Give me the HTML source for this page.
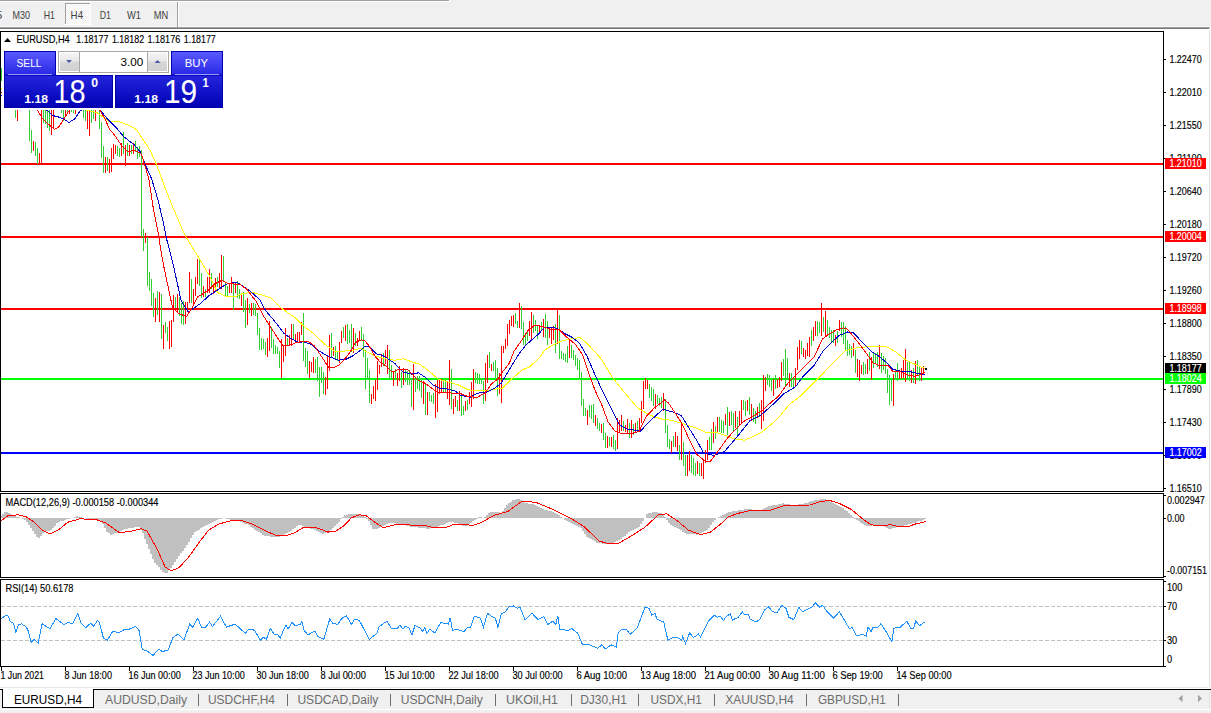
<!DOCTYPE html><html><head><meta charset="utf-8"><style>html,body{margin:0;padding:0;width:1211px;height:713px;overflow:hidden;background:#fff}svg{position:absolute;left:0;top:0;font-family:"Liberation Sans",sans-serif}</style></head><body>
<svg width="1211" height="713" viewBox="0 0 1211 713">
<rect x="0" y="0" width="1211" height="29" fill="#f0f0f0" />
<rect x="0" y="0" width="449" height="1" fill="#a0a0a0" />
<rect x="0" y="1" width="450" height="1" fill="#ffffff" />
<rect x="449" y="0" width="1" height="2" fill="#ffffff" />
<rect x="0" y="26" width="1211" height="1" fill="#f8f8f8" />
<rect x="0" y="27" width="1210" height="1" fill="#a0a0a0" />
<rect x="0" y="28" width="1209" height="1" fill="#787878" />
<rect x="1210" y="27" width="1" height="661" fill="#ffffff" />
<defs><pattern id="chk" width="2" height="2" patternUnits="userSpaceOnUse"><rect width="2" height="2" fill="#f0f0f0"/><rect width="1" height="1" fill="#ffffff"/><rect x="1" y="1" width="1" height="1" fill="#ffffff"/></pattern></defs>
<rect x="65" y="3" width="26" height="22" fill="url(#chk)" />
<rect x="65" y="3" width="26" height="1" fill="#a0a0a0" />
<rect x="65" y="3" width="1" height="22" fill="#a0a0a0" />
<rect x="65" y="24" width="26" height="1" fill="#ffffff" />
<rect x="90" y="3" width="1" height="22" fill="#ffffff" />
<rect x="177" y="2" width="1" height="25" fill="#a0a0a0" />
<rect x="178" y="2" width="1" height="25" fill="#ffffff" />
<text x="-4" y="19" font-size="10.4" fill="#404040" font-weight="normal" text-anchor="start" textLength="6.2" lengthAdjust="spacingAndGlyphs" >5</text>
<text x="12.6" y="19" font-size="10.4" fill="#404040" font-weight="normal" text-anchor="start" textLength="17.5" lengthAdjust="spacingAndGlyphs" >M30</text>
<text x="43.8" y="19" font-size="10.4" fill="#404040" font-weight="normal" text-anchor="start" textLength="11.2" lengthAdjust="spacingAndGlyphs" >H1</text>
<text x="70.6" y="19" font-size="10.4" fill="#404040" font-weight="normal" text-anchor="start" textLength="12.5" lengthAdjust="spacingAndGlyphs" >H4</text>
<text x="99.8" y="19" font-size="10.4" fill="#404040" font-weight="normal" text-anchor="start" textLength="11.2" lengthAdjust="spacingAndGlyphs" >D1</text>
<text x="126.9" y="19" font-size="10.4" fill="#404040" font-weight="normal" text-anchor="start" textLength="14" lengthAdjust="spacingAndGlyphs" >W1</text>
<text x="153.8" y="19" font-size="10.4" fill="#404040" font-weight="normal" text-anchor="start" textLength="14.5" lengthAdjust="spacingAndGlyphs" >MN</text>
<rect x="0" y="29" width="1209" height="658" fill="#ffffff" />
<rect x="1209" y="29" width="1" height="658" fill="#e3e3e3" />
<rect x="0" y="687" width="1209" height="1" fill="#e8e8e8" />
<defs><clipPath id="cm"><rect x="1" y="32" width="1162" height="459"/></clipPath><clipPath id="cmacd"><rect x="1" y="494" width="1162" height="83"/></clipPath><clipPath id="crsi"><rect x="1" y="580" width="1162" height="86"/></clipPath></defs>
<g clip-path="url(#cm)" shape-rendering="crispEdges">
<rect x="0" y="163" width="1163" height="2" fill="#ff0000" />
<rect x="0" y="236" width="1163" height="2" fill="#ff0000" />
<rect x="0" y="308" width="1163" height="2" fill="#ff0000" />
<rect x="0" y="378" width="1163" height="2" fill="#00ff00" />
<rect x="0" y="452" width="1163" height="2" fill="#0000ff" />
<path d="M1.5 68V81M3.5 62V79M7.5 58V73M13.5 80V99M15.5 92V118M19.5 90V105M21.5 84V101M25.5 88V103M29.5 100V141M31.5 130V153M35.5 142V156M37.5 148V164M43.5 98V123M45.5 100V124M47.5 95V128M49.5 98V131M55.5 92V107M57.5 88V105M61.5 95V113M63.5 96V121M67.5 94V113M71.5 92V112M73.5 90V113M77.5 90V106M81.5 90V107M83.5 95V118M85.5 96V121M91.5 100V123M93.5 98V119M97.5 96V107M99.5 98V129M101.5 122V158M103.5 146V173M107.5 157V171M117.5 146V156M119.5 148V157M123.5 132V154M127.5 143V156M131.5 145V154M135.5 141V152M137.5 147V159M139.5 146V157M141.5 150V237M143.5 229V251M147.5 237V286M149.5 272V291M151.5 279V306M153.5 293V317M157.5 291V315M161.5 294V339M165.5 322V333M167.5 327V341M175.5 297V308M179.5 297V316M181.5 303V324M183.5 301V325M191.5 279V303M199.5 260V286M201.5 273V298M205.5 289V297M211.5 273V289M217.5 277V287M223.5 256V281M225.5 283V297M227.5 286V296M233.5 282V310M237.5 281V298M239.5 289V299M243.5 292V312M245.5 300V328M249.5 304V313M253.5 303V315M255.5 304V316M257.5 313V335M259.5 328V350M261.5 338V350M263.5 339V349M265.5 342V355M271.5 327V348M273.5 339V354M275.5 345V354M277.5 347V354M279.5 351V368M287.5 338V346M293.5 324V339M303.5 313V361M305.5 348V367M307.5 351V374M315.5 359V373M317.5 357V381M319.5 367V397M321.5 367V383M323.5 372V394M331.5 333V358M335.5 346V359M337.5 351V361M343.5 327V338M347.5 324V344M349.5 330V343M351.5 324V352M355.5 333V346M361.5 327V341M363.5 334V357M365.5 350V389M367.5 358V379M369.5 370V403M383.5 353V366M389.5 350V379M391.5 365V380M395.5 369V379M401.5 372V388M405.5 369V382M407.5 371V385M409.5 370V385M411.5 378V407M415.5 377V392M417.5 376V389M419.5 376V391M421.5 378V398M425.5 383V415M429.5 392V401M431.5 395V402M433.5 393V404M443.5 381V393M445.5 380V393M451.5 369V409M457.5 400V411M461.5 395V416M463.5 406V415M467.5 400V410M475.5 372V383M477.5 373V384M479.5 374V384M481.5 378V384M483.5 381V404M489.5 352V368M493.5 362V371M495.5 360V379M497.5 368V396M515.5 313V324M517.5 321V328M521.5 306V329M523.5 322V345M525.5 333V345M527.5 331V341M533.5 315V333M535.5 320V331M537.5 325V339M541.5 322V331M545.5 314V338M547.5 321V345M555.5 324V353M559.5 315V359M561.5 351V359M563.5 353V360M565.5 354V362M567.5 346V363M571.5 345V358M573.5 350V360M575.5 355V366M577.5 358V370M579.5 360V379M581.5 372V406M583.5 399V416M585.5 408V416M589.5 405V417M591.5 405V419M593.5 404V423M597.5 418V429M599.5 423V431M603.5 423V440M605.5 433V448M609.5 437V446M613.5 435V449M615.5 440V451M623.5 421V431M629.5 423V438M633.5 424V435M637.5 421V431M649.5 384V398M651.5 387V401M653.5 389V406M657.5 395V404M659.5 398V406M661.5 397V408M665.5 399V433M667.5 425V447M669.5 439V449M673.5 436V447M679.5 445V460M683.5 442V466M685.5 455V476M691.5 455V473M693.5 458V475M695.5 463V476M699.5 463V476M709.5 437V450M711.5 429V450M715.5 426V439M719.5 417V432M721.5 420V433M723.5 421V433M727.5 407V435M731.5 411V425M733.5 413V431M737.5 417V435M743.5 400V410M745.5 401V416M749.5 397V415M753.5 408V422M755.5 411V424M759.5 403V417M767.5 374V385M769.5 375V387M771.5 379V391M775.5 375V389M783.5 359V376M785.5 349V387M787.5 358V380M791.5 373V387M793.5 377V387M801.5 341V354M811.5 330V346M817.5 321V336M819.5 322V333M823.5 317V332M827.5 320V334M829.5 327V338M831.5 330V342M833.5 330V343M837.5 331V343M841.5 322V337M843.5 322V344M845.5 326V351M847.5 340V356M849.5 344V355M851.5 346V358M855.5 350V373M863.5 362V375M865.5 364V374M869.5 352V371M873.5 352V368M875.5 353V363M877.5 352V367M881.5 353V373M883.5 356V370M885.5 358V374M887.5 369V393M889.5 375V405M891.5 380V401M895.5 370V379M897.5 363V381M907.5 362V379M909.5 362V381M913.5 368V383M917.5 360V376M919.5 367V381" stroke="#32cd32" stroke-width="1" fill="none"/>
<path d="M5.5 60V75M9.5 64V85M11.5 72V93M17.5 95V121M23.5 86V105M27.5 90V107M33.5 141V151M39.5 153V164M41.5 100V164M51.5 100V135M53.5 100V128M59.5 90V107M65.5 95V116M69.5 93V114M75.5 92V114M79.5 88V105M87.5 95V129M89.5 100V136M95.5 100V121M105.5 157V173M109.5 159V173M111.5 148V172M113.5 144V159M115.5 145V154M121.5 143V156M125.5 145V166M129.5 145V156M133.5 143V154M145.5 233V243M155.5 298V322M159.5 292V322M163.5 325V349M169.5 321V349M171.5 320V347M173.5 295V322M177.5 294V313M185.5 302V324M187.5 302V311M189.5 272V303M193.5 289V306M195.5 277V296M197.5 259V284M203.5 286V297M207.5 277V293M209.5 269V293M213.5 284V294M215.5 278V292M219.5 273V289M221.5 255V289M229.5 283V293M231.5 277V293M235.5 283V293M241.5 294V306M247.5 298V325M251.5 303V316M267.5 338V357M269.5 321V351M281.5 339V378M283.5 345V362M285.5 328V356M289.5 335V346M291.5 324V346M295.5 334V342M297.5 332V342M299.5 332V342M301.5 322V335M309.5 361V378M311.5 362V372M313.5 357V373M325.5 377V395M327.5 356V389M329.5 335V371M333.5 347V356M339.5 342V363M341.5 331V343M345.5 325V341M353.5 328V353M357.5 338V346M359.5 331V340M371.5 394V404M373.5 386V399M375.5 380V401M377.5 361V390M379.5 365V374M381.5 354V367M385.5 350V364M387.5 345V374M393.5 372V386M397.5 373V386M399.5 366V381M403.5 368V385M413.5 364V410M423.5 381V404M427.5 392V415M435.5 384V418M437.5 380V412M439.5 379V394M441.5 379V393M447.5 381V399M449.5 360V405M453.5 399V414M455.5 396V407M459.5 391V411M465.5 401V411M469.5 392V404M471.5 382V407M473.5 369V399M485.5 363V401M487.5 355V383M491.5 364V371M499.5 373V394M501.5 346V403M503.5 346V353M505.5 339V349M507.5 324V346M509.5 320V334M511.5 316V326M513.5 315V327M519.5 303V328M529.5 321V336M531.5 312V339M539.5 326V334M543.5 319V337M549.5 327V338M551.5 328V344M553.5 326V340M557.5 309V344M569.5 340V358M587.5 410V425M595.5 415V426M601.5 424V433M607.5 436V448M611.5 437V447M617.5 418V449M619.5 420V433M621.5 415V431M625.5 425V432M627.5 419V433M631.5 420V438M635.5 423V432M639.5 418V431M641.5 401V423M643.5 381V409M645.5 378V389M647.5 380V389M655.5 394V409M663.5 393V411M671.5 441V453M675.5 432V447M677.5 436V451M681.5 423V460M687.5 455V476M689.5 451V471M697.5 461V474M701.5 463V476M703.5 460V479M705.5 450V463M707.5 440V460M713.5 422V443M717.5 417V432M725.5 414V425M729.5 412V426M735.5 411V428M739.5 411V425M741.5 400V423M747.5 400V411M751.5 404V421M757.5 407V418M761.5 400V429M763.5 375V421M765.5 377V391M773.5 379V396M777.5 379V388M779.5 377V387M781.5 362V381M789.5 373V387M795.5 368V387M797.5 347V370M799.5 340V359M803.5 348V357M805.5 350V359M807.5 343V356M809.5 337V357M813.5 327V341M815.5 321V336M821.5 303V336M825.5 311V336M835.5 335V346M839.5 320V331M853.5 343V356M857.5 359V377M859.5 360V381M861.5 365V374M867.5 359V374M871.5 357V380M879.5 345V369M893.5 374V406M899.5 370V379M901.5 368V379M903.5 360V378M905.5 349V382M911.5 370V383M915.5 361V384M921.5 368V381M923.5 366V375" stroke="#ff0000" stroke-width="1" fill="none"/>
</g>
<g clip-path="url(#cm)" fill="none" stroke-width="1" shape-rendering="crispEdges">
<polyline points="1.5,88.0 40.5,98.5 88.1,110.5 97.1,112.8 108.4,121.2 119.5,121.8 128.5,125.2 136.5,129.5 150.2,150.5 156.5,164.5 164.2,185.5 172.5,206.5 184.5,234.5 193.0,248.5 199.3,258.5 209.2,275.5 217.5,292.5 226.0,296.5 237.2,296.0 242.5,293.5 252.5,292.5 263.9,295.5 270.9,298.1 280.5,307.5 296.5,318.8 303.5,325.8 313.4,333.5 324.5,344.0 334.4,351.1 344.3,351.1 352.5,350.4 361.1,348.3 366.5,351.8 375.1,356.0 385.0,358.8 394.8,360.2 403.2,358.8 413.1,362.3 420.1,364.4 428.5,370.7 438.4,379.2 448.2,382.0 458.0,384.8 466.5,389.0 470.5,390.2 488.5,390.2 502.5,388.1 511.1,379.5 522.3,369.9 529.3,367.1 539.2,358.0 544.5,350.3 551.8,345.4 563.0,340.5 579.9,337.5 586.9,343.3 600.9,358.5 612.2,377.0 622.0,389.5 630.5,399.5 637.5,407.8 649.0,414.8 661.5,419.0 672.5,420.5 685.5,424.5 696.5,428.2 706.5,432.5 716.5,432.5 724.8,435.2 736.0,439.5 744.5,440.1 751.5,437.3 761.3,432.5 772.5,423.3 781.0,414.8 789.5,404.3 801.2,395.5 816.7,379.8 844.8,351.0 854.5,348.2 872.9,346.1 886.9,346.8 895.3,351.7 905.2,359.5 915.0,364.3 924.8,368.5" stroke="#ffff00"/>
<polyline points="1.5,95.0 25.5,104.5 47.7,110.5 52.2,115.5 57.8,116.7 63.5,119.0 69.0,122.4 74.7,119.0 80.3,110.5 90.5,106.5 100.5,110.5 108.4,120.1 117.4,129.1 124.1,137.0 134.2,144.8 140.3,151.9 145.9,165.9 151.5,178.5 157.9,199.5 163.5,223.5 167.0,240.5 172.5,261.5 181.1,300.5 188.1,312.1 200.5,303.5 209.2,295.5 219.0,289.0 227.5,283.5 237.2,282.5 249.9,291.0 259.7,299.5 265.5,310.5 274.1,320.5 284.0,333.5 291.0,338.5 298.0,342.3 303.5,341.9 310.5,344.0 319.0,351.1 328.8,356.5 338.5,360.2 345.5,359.5 352.5,356.0 359.5,351.1 365.3,346.1 369.5,346.8 376.5,353.9 382.2,355.3 389.2,359.5 394.8,363.5 403.2,372.1 411.5,374.2 418.5,372.8 425.5,377.5 432.7,384.8 439.5,388.3 446.8,389.0 455.2,391.1 460.5,395.2 470.5,397.3 477.5,393.1 485.5,392.5 494.2,388.5 501.2,383.2 504.0,378.5 512.5,364.3 519.5,353.1 526.5,344.5 539.2,333.5 544.5,327.1 551.8,327.1 558.5,329.2 564.5,333.5 572.5,337.5 579.5,343.3 586.9,355.9 595.3,375.5 603.8,393.8 612.2,410.5 619.2,424.5 626.2,428.9 640.5,431.0 650.5,420.5 663.0,409.2 672.8,412.0 681.3,415.5 689.5,428.9 696.5,440.1 703.5,452.7 713.5,455.5 724.8,451.3 738.9,434.5 750.1,420.5 761.3,414.8 774.0,403.5 783.8,393.8 795.5,386.8 802.5,377.0 813.9,365.7 823.5,350.3 833.5,340.5 839.2,335.5 847.5,332.0 853.2,332.7 865.5,345.5 871.5,351.7 878.5,355.9 886.9,362.9 892.5,369.2 900.9,371.3 908.0,371.3 915.0,372.7 924.8,374.9" stroke="#0000cd"/>
<polyline points="1.5,92.5 20.5,100.5 37.5,110.5 42.1,117.9 48.8,124.5 54.5,129.5 58.9,126.8 64.5,117.9 67.9,112.2 72.5,106.5 85.5,104.5 95.5,106.5 100.5,111.1 105.0,119.0 109.5,129.1 115.1,135.8 121.8,145.9 127.5,151.5 135.3,150.5 140.9,153.5 142.5,157.5 144.5,164.5 148.8,178.5 153.0,206.5 158.5,234.5 160.5,248.5 164.2,268.5 172.5,307.5 178.3,313.5 186.5,316.5 192.3,307.5 197.9,296.5 203.5,293.5 209.2,289.5 214.5,284.0 221.5,280.5 228.5,283.5 240.0,284.5 247.1,289.5 256.9,302.5 263.9,316.5 270.9,327.5 278.0,338.5 282.5,345.1 288.2,345.8 295.2,343.0 303.5,341.2 309.1,341.9 314.5,346.1 321.5,356.5 328.5,367.2 333.0,367.9 338.5,365.5 344.3,359.5 349.9,352.5 355.5,342.5 361.1,339.8 365.3,341.2 369.5,346.5 375.1,356.5 380.5,362.3 386.5,366.5 392.0,372.1 399.0,369.3 407.5,369.3 413.1,374.9 418.5,380.5 425.5,383.4 432.7,389.0 438.4,392.5 445.4,392.5 452.4,393.2 459.4,393.2 466.5,396.0 468.9,396.5 477.5,397.3 485.5,392.5 491.5,383.9 498.5,378.3 502.5,372.0 509.5,362.9 513.9,351.5 520.9,341.5 527.9,330.5 534.9,325.0 542.0,326.5 550.5,329.2 558.5,329.2 567.2,337.5 575.5,344.5 582.5,354.5 589.5,375.5 595.3,390.9 602.4,406.4 608.0,421.8 615.0,431.0 622.0,433.8 630.5,433.8 639.1,431.5 646.2,416.2 654.5,407.8 664.5,400.1 668.5,402.9 675.5,413.5 682.5,424.5 689.5,440.1 696.5,454.2 705.2,461.2 710.5,461.2 717.5,452.0 727.5,438.0 736.0,428.9 743.1,421.8 752.9,416.2 762.5,410.5 771.2,402.2 778.2,396.5 788.5,382.5 797.0,374.2 805.5,365.5 813.9,357.3 822.5,339.0 827.9,334.8 836.3,329.9 843.5,327.8 847.5,329.2 858.8,343.3 867.2,354.5 872.9,362.9 879.9,365.7 888.3,365.7 892.5,371.3 900.9,372.0 909.4,375.5 915.0,376.3 922.0,374.2 924.8,372.0" stroke="#ff0000"/>
</g>
<rect x="925" y="368" width="2" height="2" fill="#000" />
<defs>
<linearGradient id="gbtn" x1="0" y1="0" x2="0" y2="1"><stop offset="0" stop-color="#5a5aff"/><stop offset="1" stop-color="#2a2ae6"/></linearGradient>
<linearGradient id="gbig" x1="0" y1="0" x2="0" y2="1"><stop offset="0" stop-color="#2424dc"/><stop offset="1" stop-color="#0000b4"/></linearGradient>
<linearGradient id="gsp" x1="0" y1="0" x2="0" y2="1"><stop offset="0" stop-color="#f4f4f4"/><stop offset="0.45" stop-color="#e8e8e8"/><stop offset="0.5" stop-color="#d8d8d8"/><stop offset="1" stop-color="#d0d0d0"/></linearGradient>
</defs>
<rect x="2" y="49" width="223" height="61" fill="#ffffff" />
<rect x="4" y="51" width="52" height="24" fill="#0000b0" />
<rect x="5" y="52" width="50" height="22" fill="url(#gbtn)" />
<rect x="8" y="74" width="44" height="1" fill="#9c9cff" />
<rect x="4" y="75" width="109" height="33" fill="#0000a8" />
<rect x="5" y="76" width="107" height="31" fill="url(#gbig)" />
<rect x="5" y="74" width="50" height="2" fill="url(#gbig)" />
<rect x="8" y="74" width="44" height="1" fill="#9c9cff" />
<rect x="171" y="51" width="52" height="24" fill="#0000b0" />
<rect x="172" y="52" width="50" height="22" fill="url(#gbtn)" />
<rect x="115" y="75" width="108" height="33" fill="#0000a8" />
<rect x="116" y="76" width="106" height="31" fill="url(#gbig)" />
<rect x="172" y="74" width="50" height="2" fill="url(#gbig)" />
<rect x="175" y="74" width="44" height="1" fill="#9c9cff" />
<rect x="56" y="51" width="115" height="24" fill="#ffffff" />
<rect x="58" y="51" width="111" height="1" fill="#a8a8a8" />
<rect x="58" y="72" width="111" height="1" fill="#a8a8a8" />
<rect x="58" y="51" width="1" height="22" fill="#a8a8a8" />
<rect x="168" y="51" width="1" height="22" fill="#a8a8a8" />
<rect x="60" y="53" width="19" height="18" fill="url(#gsp)" />
<rect x="79" y="52" width="1" height="20" fill="#a8a8a8" />
<rect x="148" y="53" width="19" height="18" fill="url(#gsp)" />
<rect x="147" y="52" width="1" height="20" fill="#a8a8a8" />
<path d="M66 60h6l-3 3z" fill="#4a5aa8"/>
<path d="M154.5 63h6l-3-3z" fill="#4a5aa8"/>
<text x="120.4" y="66" font-size="11.5" fill="#000" font-weight="normal" text-anchor="start" textLength="22.8" lengthAdjust="spacingAndGlyphs" >3.00</text>
<text x="16.4" y="66.8" font-size="11.5" fill="#ffffff" font-weight="normal" text-anchor="start" textLength="25.2" lengthAdjust="spacingAndGlyphs" >SELL</text>
<text x="184.8" y="66.8" font-size="11.5" fill="#ffffff" font-weight="normal" text-anchor="start" textLength="23.3" lengthAdjust="spacingAndGlyphs" >BUY</text>
<text x="24.3" y="102.8" font-size="11.5" fill="#ffffff" font-weight="bold" text-anchor="start" textLength="23.7" lengthAdjust="spacingAndGlyphs" >1.18</text>
<text x="53.5" y="103" font-size="33.5" fill="#ffffff" font-weight="normal" text-anchor="start" textLength="32.2" lengthAdjust="spacingAndGlyphs" >18</text>
<text x="91.2" y="87" font-size="12.5" fill="#ffffff" font-weight="bold" text-anchor="start" textLength="6.8" lengthAdjust="spacingAndGlyphs" >0</text>
<text x="134.3" y="102.8" font-size="11.5" fill="#ffffff" font-weight="bold" text-anchor="start" textLength="23.7" lengthAdjust="spacingAndGlyphs" >1.18</text>
<text x="164" y="103" font-size="33.5" fill="#ffffff" font-weight="normal" text-anchor="start" textLength="33.2" lengthAdjust="spacingAndGlyphs" >19</text>
<text x="202.5" y="87" font-size="12.5" fill="#ffffff" font-weight="bold" text-anchor="start" textLength="6.2" lengthAdjust="spacingAndGlyphs" >1</text>
<path d="M4 42h7l-3.5-4z" fill="#000"/>
<text x="16.4" y="43" font-size="10.4" fill="#000" font-weight="normal" text-anchor="start" textLength="53.3" lengthAdjust="spacingAndGlyphs" stroke="#000" stroke-width="0.15" >EURUSD,H4</text>
<text x="76.2" y="43" font-size="10.4" fill="#000" font-weight="normal" text-anchor="start" textLength="32.3" lengthAdjust="spacingAndGlyphs" stroke="#000" stroke-width="0.15" >1.18177</text>
<text x="111.9" y="43" font-size="10.4" fill="#000" font-weight="normal" text-anchor="start" textLength="32.3" lengthAdjust="spacingAndGlyphs" stroke="#000" stroke-width="0.15" >1.18182</text>
<text x="147.5" y="43" font-size="10.4" fill="#000" font-weight="normal" text-anchor="start" textLength="32.7" lengthAdjust="spacingAndGlyphs" stroke="#000" stroke-width="0.15" >1.18176</text>
<text x="183.8" y="43" font-size="10.4" fill="#000" font-weight="normal" text-anchor="start" textLength="32.0" lengthAdjust="spacingAndGlyphs" stroke="#000" stroke-width="0.15" >1.18177</text>
<g clip-path="url(#cmacd)">
<path d="M0 516h2V518h-2zM2 514h2V518h-2zM4 512h2V518h-2zM6 512h2V518h-2zM8 513h2V518h-2zM10 514h2V518h-2zM12 515h2V518h-2zM14 516h2V518h-2zM16 517h2V518h-2zM18 517h2V518h-2zM22 518h2V519h-2zM24 518h2V520h-2zM26 518h2V522h-2zM28 518h2V525h-2zM30 518h2V528h-2zM32 518h2V531h-2zM34 518h2V534h-2zM36 518h2V537h-2zM38 518h2V538h-2zM40 518h2V536h-2zM42 518h2V533h-2zM44 518h2V532h-2zM46 518h2V531h-2zM48 518h2V531h-2zM50 518h2V530h-2zM52 518h2V528h-2zM54 518h2V526h-2zM56 518h2V523h-2zM58 518h2V522h-2zM60 518h2V521h-2zM62 518h2V521h-2zM64 518h2V520h-2zM66 518h2V519h-2zM68 518h2V519h-2zM74 517h2V518h-2zM76 516h2V518h-2zM78 517h2V518h-2zM80 517h2V518h-2zM86 518h2V519h-2zM88 518h2V519h-2zM90 518h2V519h-2zM92 518h2V520h-2zM94 518h2V520h-2zM96 518h2V520h-2zM98 518h2V520h-2zM100 518h2V521h-2zM102 518h2V524h-2zM104 518h2V528h-2zM106 518h2V532h-2zM108 518h2V533h-2zM110 518h2V535h-2zM112 518h2V534h-2zM114 518h2V533h-2zM116 518h2V533h-2zM118 518h2V532h-2zM120 518h2V531h-2zM122 518h2V530h-2zM124 518h2V529h-2zM126 518h2V529h-2zM128 518h2V528h-2zM130 518h2V528h-2zM132 518h2V528h-2zM134 518h2V527h-2zM136 518h2V527h-2zM138 518h2V527h-2zM140 518h2V530h-2zM142 518h2V533h-2zM144 518h2V539h-2zM146 518h2V544h-2zM148 518h2V549h-2zM150 518h2V554h-2zM152 518h2V559h-2zM154 518h2V563h-2zM156 518h2V565h-2zM158 518h2V567h-2zM160 518h2V570h-2zM162 518h2V572h-2zM164 518h2V573h-2zM166 518h2V573h-2zM168 518h2V570h-2zM170 518h2V568h-2zM172 518h2V565h-2zM174 518h2V562h-2zM176 518h2V559h-2zM178 518h2V556h-2zM180 518h2V553h-2zM182 518h2V551h-2zM184 518h2V548h-2zM186 518h2V545h-2zM188 518h2V542h-2zM190 518h2V538h-2zM192 518h2V535h-2zM194 518h2V532h-2zM196 518h2V531h-2zM198 518h2V530h-2zM200 518h2V528h-2zM202 518h2V527h-2zM204 518h2V526h-2zM206 518h2V525h-2zM208 518h2V524h-2zM210 518h2V523h-2zM212 518h2V522h-2zM214 518h2V521h-2zM216 518h2V520h-2zM218 518h2V519h-2zM220 518h2V519h-2zM226 518h2V519h-2zM228 518h2V519h-2zM230 518h2V520h-2zM232 518h2V520h-2zM234 518h2V520h-2zM236 518h2V521h-2zM238 518h2V521h-2zM240 518h2V522h-2zM242 518h2V523h-2zM244 518h2V524h-2zM246 518h2V524h-2zM248 518h2V525h-2zM250 518h2V527h-2zM252 518h2V528h-2zM254 518h2V530h-2zM256 518h2V531h-2zM258 518h2V532h-2zM260 518h2V533h-2zM262 518h2V535h-2zM264 518h2V536h-2zM266 518h2V536h-2zM268 518h2V536h-2zM270 518h2V537h-2zM272 518h2V537h-2zM274 518h2V537h-2zM276 518h2V537h-2zM278 518h2V537h-2zM280 518h2V536h-2zM282 518h2V535h-2zM284 518h2V534h-2zM286 518h2V533h-2zM288 518h2V532h-2zM290 518h2V531h-2zM292 518h2V529h-2zM294 518h2V528h-2zM296 518h2V526h-2zM298 518h2V525h-2zM300 518h2V525h-2zM302 518h2V526h-2zM304 518h2V527h-2zM306 518h2V528h-2zM308 518h2V528h-2zM310 518h2V529h-2zM312 518h2V529h-2zM314 518h2V530h-2zM316 518h2V531h-2zM318 518h2V532h-2zM320 518h2V533h-2zM322 518h2V534h-2zM324 518h2V533h-2zM326 518h2V532h-2zM328 518h2V531h-2zM330 518h2V530h-2zM332 518h2V528h-2zM334 518h2V526h-2zM336 518h2V524h-2zM338 518h2V522h-2zM340 518h2V519h-2zM342 517h2V518h-2zM344 515h2V518h-2zM346 515h2V518h-2zM348 514h2V518h-2zM350 514h2V518h-2zM352 514h2V518h-2zM354 514h2V518h-2zM356 514h2V518h-2zM358 514h2V518h-2zM360 515h2V518h-2zM362 515h2V518h-2zM364 517h2V518h-2zM366 518h2V519h-2zM368 518h2V521h-2zM370 518h2V525h-2zM372 518h2V529h-2zM374 518h2V529h-2zM376 518h2V529h-2zM378 518h2V528h-2zM380 518h2V527h-2zM382 518h2V526h-2zM384 518h2V525h-2zM386 518h2V524h-2zM388 518h2V523h-2zM390 518h2V523h-2zM392 518h2V523h-2zM394 518h2V523h-2zM396 518h2V524h-2zM398 518h2V524h-2zM400 518h2V524h-2zM402 518h2V525h-2zM404 518h2V525h-2zM406 518h2V526h-2zM408 518h2V526h-2zM410 518h2V527h-2zM412 518h2V527h-2zM414 518h2V527h-2zM416 518h2V527h-2zM418 518h2V528h-2zM420 518h2V528h-2zM422 518h2V528h-2zM424 518h2V528h-2zM426 518h2V529h-2zM428 518h2V529h-2zM430 518h2V528h-2zM432 518h2V528h-2zM434 518h2V527h-2zM436 518h2V527h-2zM438 518h2V526h-2zM440 518h2V525h-2zM442 518h2V525h-2zM444 518h2V524h-2zM446 518h2V523h-2zM448 518h2V522h-2zM450 518h2V522h-2zM452 518h2V522h-2zM454 518h2V523h-2zM456 518h2V523h-2zM458 518h2V524h-2zM460 518h2V525h-2zM462 518h2V526h-2zM464 518h2V526h-2zM466 518h2V526h-2zM468 518h2V524h-2zM470 518h2V523h-2zM472 518h2V521h-2zM474 518h2V520h-2zM476 518h2V519h-2zM478 517h2V518h-2zM480 517h2V518h-2zM484 517h2V518h-2zM486 515h2V518h-2zM488 513h2V518h-2zM490 512h2V518h-2zM492 512h2V518h-2zM494 512h2V518h-2zM496 512h2V518h-2zM498 512h2V518h-2zM500 513h2V518h-2zM502 511h2V518h-2zM504 508h2V518h-2zM506 505h2V518h-2zM508 503h2V518h-2zM510 502h2V518h-2zM512 500h2V518h-2zM514 500h2V518h-2zM516 499h2V518h-2zM518 499h2V518h-2zM520 500h2V518h-2zM522 501h2V518h-2zM524 503h2V518h-2zM526 503h2V518h-2zM528 504h2V518h-2zM530 504h2V518h-2zM532 504h2V518h-2zM534 505h2V518h-2zM536 506h2V518h-2zM538 507h2V518h-2zM540 508h2V518h-2zM542 509h2V518h-2zM544 510h2V518h-2zM546 510h2V518h-2zM548 511h2V518h-2zM550 511h2V518h-2zM552 512h2V518h-2zM554 513h2V518h-2zM556 514h2V518h-2zM558 515h2V518h-2zM560 517h2V518h-2zM564 518h2V520h-2zM566 518h2V521h-2zM568 518h2V522h-2zM570 518h2V523h-2zM572 518h2V524h-2zM574 518h2V525h-2zM576 518h2V526h-2zM578 518h2V527h-2zM580 518h2V528h-2zM582 518h2V531h-2zM584 518h2V534h-2zM586 518h2V537h-2zM588 518h2V538h-2zM590 518h2V539h-2zM592 518h2V540h-2zM594 518h2V541h-2zM596 518h2V543h-2zM598 518h2V543h-2zM600 518h2V543h-2zM602 518h2V544h-2zM604 518h2V544h-2zM606 518h2V544h-2zM608 518h2V544h-2zM610 518h2V544h-2zM612 518h2V543h-2zM614 518h2V542h-2zM616 518h2V541h-2zM618 518h2V540h-2zM620 518h2V539h-2zM622 518h2V537h-2zM624 518h2V536h-2zM626 518h2V534h-2zM628 518h2V532h-2zM630 518h2V531h-2zM632 518h2V530h-2zM634 518h2V529h-2zM636 518h2V528h-2zM638 518h2V527h-2zM640 518h2V524h-2zM642 518h2V521h-2zM646 514h2V518h-2zM648 513h2V518h-2zM650 513h2V518h-2zM652 512h2V518h-2zM654 512h2V518h-2zM656 512h2V518h-2zM658 513h2V518h-2zM660 513h2V518h-2zM662 515h2V518h-2zM664 517h2V518h-2zM666 518h2V520h-2zM668 518h2V523h-2zM670 518h2V525h-2zM672 518h2V526h-2zM674 518h2V527h-2zM676 518h2V528h-2zM678 518h2V529h-2zM680 518h2V530h-2zM682 518h2V532h-2zM684 518h2V533h-2zM686 518h2V534h-2zM688 518h2V534h-2zM690 518h2V534h-2zM692 518h2V534h-2zM694 518h2V534h-2zM696 518h2V535h-2zM698 518h2V534h-2zM700 518h2V533h-2zM702 518h2V532h-2zM704 518h2V531h-2zM706 518h2V530h-2zM708 518h2V528h-2zM710 518h2V525h-2zM712 518h2V522h-2zM714 518h2V520h-2zM718 517h2V518h-2zM720 516h2V518h-2zM722 515h2V518h-2zM724 514h2V518h-2zM726 513h2V518h-2zM728 512h2V518h-2zM730 512h2V518h-2zM732 511h2V518h-2zM734 511h2V518h-2zM736 511h2V518h-2zM738 510h2V518h-2zM740 510h2V518h-2zM742 510h2V518h-2zM744 509h2V518h-2zM746 509h2V518h-2zM748 509h2V518h-2zM750 509h2V518h-2zM752 510h2V518h-2zM754 510h2V518h-2zM756 510h2V518h-2zM758 511h2V518h-2zM760 510h2V518h-2zM762 509h2V518h-2zM764 508h2V518h-2zM766 507h2V518h-2zM768 506h2V518h-2zM770 506h2V518h-2zM772 505h2V518h-2zM774 505h2V518h-2zM776 505h2V518h-2zM778 504h2V518h-2zM780 504h2V518h-2zM782 503h2V518h-2zM784 504h2V518h-2zM786 504h2V518h-2zM788 504h2V518h-2zM790 505h2V518h-2zM792 505h2V518h-2zM794 505h2V518h-2zM796 505h2V518h-2zM798 504h2V518h-2zM800 504h2V518h-2zM802 504h2V518h-2zM804 503h2V518h-2zM806 503h2V518h-2zM808 502h2V518h-2zM810 501h2V518h-2zM812 501h2V518h-2zM814 500h2V518h-2zM816 500h2V518h-2zM818 500h2V518h-2zM820 499h2V518h-2zM822 499h2V518h-2zM824 499h2V518h-2zM826 500h2V518h-2zM828 501h2V518h-2zM830 502h2V518h-2zM832 503h2V518h-2zM834 504h2V518h-2zM836 505h2V518h-2zM838 506h2V518h-2zM840 507h2V518h-2zM842 508h2V518h-2zM844 510h2V518h-2zM846 511h2V518h-2zM848 513h2V518h-2zM850 515h2V518h-2zM852 517h2V518h-2zM854 518h2V519h-2zM856 518h2V520h-2zM858 518h2V521h-2zM860 518h2V523h-2zM862 518h2V524h-2zM864 518h2V525h-2zM866 518h2V526h-2zM868 518h2V526h-2zM870 518h2V526h-2zM872 518h2V525h-2zM874 518h2V525h-2zM876 518h2V525h-2zM878 518h2V525h-2zM880 518h2V526h-2zM882 518h2V526h-2zM884 518h2V527h-2zM886 518h2V528h-2zM888 518h2V529h-2zM890 518h2V529h-2zM892 518h2V528h-2zM894 518h2V528h-2zM896 518h2V527h-2zM898 518h2V527h-2zM900 518h2V526h-2zM902 518h2V526h-2zM904 518h2V525h-2zM906 518h2V525h-2zM908 518h2V524h-2zM910 518h2V524h-2zM912 518h2V523h-2zM914 518h2V523h-2zM916 518h2V522h-2zM918 518h2V521h-2zM920 518h2V521h-2zM922 518h2V520h-2zM924 518h2V519h-2z" fill="#c0c0c0" shape-rendering="crispEdges"/>
<polyline points="0.5,521.2 8.4,515.3 18.3,514.9 26.3,516.9 34.2,522.2 42.1,530.2 50.0,534.1 58.0,530.2 67.9,522.2 79.8,518.9 95.5,519.3 105.5,522.8 119.4,532.7 131.3,531.2 141.2,528.8 147.1,531.2 157.1,549.0 165.0,566.8 170.9,570.8 178.9,567.8 188.8,556.9 198.7,543.0 208.5,530.2 218.5,524.2 228.4,521.2 236.3,520.3 240.5,520.3 252.4,524.2 264.3,530.2 276.2,535.5 286.1,535.5 294.0,533.1 303.9,527.2 313.8,527.2 319.8,528.8 327.7,532.1 335.5,531.2 343.5,526.2 351.5,517.7 359.4,514.9 365.4,515.3 373.3,521.2 383.2,527.6 395.1,524.8 403.0,524.2 414.9,525.6 424.8,525.6 434.7,527.8 446.6,527.2 454.5,524.2 464.5,524.2 472.4,525.6 480.5,522.8 494.4,515.3 508.2,511.3 522.1,501.0 536.0,502.4 551.8,509.0 569.7,517.7 583.5,526.2 599.4,541.1 609.3,544.0 619.2,543.0 631.1,536.1 645.0,527.2 658.9,514.3 666.8,513.9 676.7,520.3 688.5,530.2 700.5,534.7 710.4,532.1 720.5,524.2 728.4,516.9 738.3,513.3 748.2,510.9 768.1,510.9 783.9,505.8 809.7,505.0 819.6,501.8 829.5,500.4 839.4,503.4 851.3,509.4 863.2,519.3 871.1,524.8 879.0,525.6 890.9,524.8 898.9,526.8 907.8,526.8 914.7,524.2 925.6,521.6" stroke="#ff0000" fill="none" stroke-width="1" shape-rendering="crispEdges"/>
</g>
<text x="5.5" y="506" font-size="10.4" fill="#000" font-weight="normal" text-anchor="start" textLength="153" lengthAdjust="spacingAndGlyphs" stroke="#000" stroke-width="0.15" >MACD(12,26,9) -0.000158 -0.000344</text>
<g clip-path="url(#crsi)" shape-rendering="crispEdges">
<path d="M1 606.5H1163M1 640.5H1163" stroke="#c0c0c0" stroke-dasharray="4 2" fill="none"/>
</g>
<g clip-path="url(#crsi)">
<polyline points="0.5,619.1 6.4,615.2 8.4,616.2 10.4,621.7 13.4,623.1 16.0,632.4 18.3,625.1 21.3,623.7 26.3,627.1 28.2,631.0 31.2,642.3 34.2,639.5 38.2,642.9 42.1,623.7 46.1,626.5 50.0,628.5 56.0,618.5 63.9,624.5 67.9,622.5 72.8,623.7 77.8,613.8 80.8,622.5 85.7,627.7 90.7,623.1 93.6,626.1 97.6,620.5 99.6,623.1 103.5,638.4 107.5,640.0 112.5,631.6 119.4,632.4 123.4,630.0 129.3,629.1 135.3,626.5 139.2,630.5 142.2,649.5 147.1,650.9 153.1,655.4 159.0,648.9 162.0,651.5 168.0,650.3 172.9,637.6 177.9,634.0 183.8,640.0 189.8,624.1 192.7,627.1 197.7,618.2 201.6,627.7 205.6,627.1 209.6,622.1 212.5,626.5 220.5,616.2 226.4,627.1 230.4,625.7 235.3,624.1 240.5,629.1 245.5,633.0 248.4,629.6 252.4,629.1 255.4,631.6 260.3,640.3 263.3,637.0 266.3,639.5 270.2,628.5 274.2,634.0 278.2,635.0 280.1,638.4 283.1,631.0 286.1,625.1 288.1,629.1 292.0,622.5 295.0,625.7 300.0,624.5 301.9,621.1 303.9,630.0 307.9,635.0 314.8,631.0 317.8,636.4 323.7,639.5 329.7,619.1 332.7,623.1 337.6,624.5 341.6,618.5 346.5,615.8 351.5,624.5 354.5,619.1 359.4,620.5 369.3,639.5 377.2,633.0 379.2,626.5 387.1,621.1 391.1,628.1 397.1,628.5 400.0,625.1 403.0,629.1 405.0,626.5 409.0,627.7 411.9,635.0 414.9,625.7 419.9,627.7 422.8,631.6 424.8,627.1 426.8,633.6 429.8,629.1 434.7,633.0 440.7,622.5 448.6,624.1 450.2,617.8 452.5,630.5 456.5,629.1 460.5,630.5 464.4,631.6 466.4,628.1 470.4,627.7 474.3,616.2 480.5,618.2 483.5,627.1 487.4,613.2 491.4,616.2 495.4,618.2 497.9,627.7 501.3,614.2 505.3,611.8 509.2,606.7 513.2,605.9 517.2,608.2 520.1,607.3 525.1,620.1 532.0,613.2 538.0,619.7 543.9,616.6 547.9,624.5 552.8,621.1 555.8,624.5 557.8,615.8 559.8,629.1 567.7,630.5 571.7,628.5 577.6,633.0 582.6,644.9 589.5,644.9 594.5,646.9 597.4,648.3 601.8,644.9 605.4,648.9 611.3,644.9 616.3,646.9 618.2,633.0 622.2,629.1 627.1,630.0 630.1,634.4 637.1,628.1 645.0,607.3 648.9,608.2 651.9,615.2 654.9,613.2 656.9,619.1 663.8,622.1 667.8,640.0 671.7,638.0 677.7,637.6 681.7,640.3 682.6,636.4 685.6,643.5 689.6,633.0 693.5,637.6 698.5,634.0 700.5,637.0 708.4,621.1 714.3,615.2 717.3,617.2 720.5,616.2 723.5,620.5 726.4,616.2 730.4,613.8 732.4,620.1 738.3,617.2 742.3,611.8 744.3,614.6 748.2,614.2 750.2,619.1 756.2,622.1 760.1,619.1 764.1,610.6 768.1,606.7 773.0,611.8 777.0,612.6 781.9,605.3 785.9,608.2 788.9,617.2 793.8,619.7 798.8,607.3 802.7,611.8 811.7,607.3 815.6,602.7 819.6,607.3 822.6,605.3 827.5,612.2 833.5,618.2 839.4,611.8 849.3,628.5 852.3,627.7 856.3,635.6 863.2,634.4 866.2,636.0 868.1,627.1 871.1,631.6 873.1,627.1 877.1,628.1 881.0,623.7 886.0,631.6 891.9,641.9 893.9,628.1 899.9,627.7 906.8,621.1 910.7,628.5 913.7,628.1 915.7,621.1 919.7,625.7 923.6,622.5 925.6,623.1" stroke="#1e90ff" fill="none" stroke-width="1" shape-rendering="crispEdges"/>
</g>
<text x="5.5" y="592" font-size="10.4" fill="#000" font-weight="normal" text-anchor="start" textLength="68" lengthAdjust="spacingAndGlyphs" stroke="#000" stroke-width="0.15" >RSI(14) 50.6178</text>
<rect x="0" y="31" width="1164" height="1" fill="#000" />
<rect x="0" y="491" width="1164" height="1" fill="#000" />
<rect x="0" y="31" width="1" height="461" fill="#000" />
<rect x="1163" y="31" width="1" height="461" fill="#000" />
<rect x="0" y="493" width="1164" height="1" fill="#000" />
<rect x="0" y="577" width="1164" height="1" fill="#000" />
<rect x="0" y="493" width="1" height="85" fill="#000" />
<rect x="1163" y="493" width="1" height="85" fill="#000" />
<rect x="0" y="579" width="1164" height="1" fill="#000" />
<rect x="0" y="666" width="1164" height="1" fill="#000" />
<rect x="0" y="579" width="1" height="88" fill="#000" />
<rect x="1163" y="579" width="1" height="88" fill="#000" />
<rect x="1164" y="59" width="2" height="1" fill="#000" />
<text x="1169.4" y="63" font-size="10.4" fill="#000" font-weight="normal" text-anchor="start" textLength="32.4" lengthAdjust="spacingAndGlyphs" stroke="#000" stroke-width="0.15" >1.22470</text>
<rect x="1164" y="92" width="2" height="1" fill="#000" />
<text x="1169.4" y="96" font-size="10.4" fill="#000" font-weight="normal" text-anchor="start" textLength="32.4" lengthAdjust="spacingAndGlyphs" stroke="#000" stroke-width="0.15" >1.22010</text>
<rect x="1164" y="125" width="2" height="1" fill="#000" />
<text x="1169.4" y="129" font-size="10.4" fill="#000" font-weight="normal" text-anchor="start" textLength="32.4" lengthAdjust="spacingAndGlyphs" stroke="#000" stroke-width="0.15" >1.21550</text>
<rect x="1164" y="158" width="2" height="1" fill="#000" />
<text x="1169.4" y="162" font-size="10.4" fill="#000" font-weight="normal" text-anchor="start" textLength="32.4" lengthAdjust="spacingAndGlyphs" stroke="#000" stroke-width="0.15" >1.21100</text>
<rect x="1164" y="191" width="2" height="1" fill="#000" />
<text x="1169.4" y="195" font-size="10.4" fill="#000" font-weight="normal" text-anchor="start" textLength="32.4" lengthAdjust="spacingAndGlyphs" stroke="#000" stroke-width="0.15" >1.20640</text>
<rect x="1164" y="224" width="2" height="1" fill="#000" />
<text x="1169.4" y="228" font-size="10.4" fill="#000" font-weight="normal" text-anchor="start" textLength="32.4" lengthAdjust="spacingAndGlyphs" stroke="#000" stroke-width="0.15" >1.20180</text>
<rect x="1164" y="257" width="2" height="1" fill="#000" />
<text x="1169.4" y="261" font-size="10.4" fill="#000" font-weight="normal" text-anchor="start" textLength="32.4" lengthAdjust="spacingAndGlyphs" stroke="#000" stroke-width="0.15" >1.19720</text>
<rect x="1164" y="290" width="2" height="1" fill="#000" />
<text x="1169.4" y="294" font-size="10.4" fill="#000" font-weight="normal" text-anchor="start" textLength="32.4" lengthAdjust="spacingAndGlyphs" stroke="#000" stroke-width="0.15" >1.19260</text>
<rect x="1164" y="323" width="2" height="1" fill="#000" />
<text x="1169.4" y="327" font-size="10.4" fill="#000" font-weight="normal" text-anchor="start" textLength="32.4" lengthAdjust="spacingAndGlyphs" stroke="#000" stroke-width="0.15" >1.18800</text>
<rect x="1164" y="356" width="2" height="1" fill="#000" />
<text x="1169.4" y="360" font-size="10.4" fill="#000" font-weight="normal" text-anchor="start" textLength="32.4" lengthAdjust="spacingAndGlyphs" stroke="#000" stroke-width="0.15" >1.18350</text>
<rect x="1164" y="389" width="2" height="1" fill="#000" />
<text x="1169.4" y="393" font-size="10.4" fill="#000" font-weight="normal" text-anchor="start" textLength="32.4" lengthAdjust="spacingAndGlyphs" stroke="#000" stroke-width="0.15" >1.17890</text>
<rect x="1164" y="422" width="2" height="1" fill="#000" />
<text x="1169.4" y="426" font-size="10.4" fill="#000" font-weight="normal" text-anchor="start" textLength="32.4" lengthAdjust="spacingAndGlyphs" stroke="#000" stroke-width="0.15" >1.17430</text>
<rect x="1164" y="455" width="2" height="1" fill="#000" />
<text x="1169.4" y="459" font-size="10.4" fill="#000" font-weight="normal" text-anchor="start" textLength="32.4" lengthAdjust="spacingAndGlyphs" stroke="#000" stroke-width="0.15" >1.16970</text>
<rect x="1164" y="488" width="2" height="1" fill="#000" />
<text x="1169.4" y="492" font-size="10.4" fill="#000" font-weight="normal" text-anchor="start" textLength="32.4" lengthAdjust="spacingAndGlyphs" stroke="#000" stroke-width="0.15" >1.16510</text>
<rect x="1165" y="158" width="41" height="11" fill="#ff0000" />
<text x="1169.4" y="167" font-size="10.4" fill="#ffffff" font-weight="normal" text-anchor="start" textLength="32.4" lengthAdjust="spacingAndGlyphs" stroke="#ffffff" stroke-width="0.15" >1.21010</text>
<rect x="1165" y="231" width="41" height="11" fill="#ff0000" />
<text x="1169.4" y="240" font-size="10.4" fill="#ffffff" font-weight="normal" text-anchor="start" textLength="32.4" lengthAdjust="spacingAndGlyphs" stroke="#ffffff" stroke-width="0.15" >1.20004</text>
<rect x="1165" y="303" width="41" height="11" fill="#ff0000" />
<text x="1169.4" y="312" font-size="10.4" fill="#ffffff" font-weight="normal" text-anchor="start" textLength="32.4" lengthAdjust="spacingAndGlyphs" stroke="#ffffff" stroke-width="0.15" >1.18998</text>
<rect x="1165" y="363" width="41" height="11" fill="#000000" />
<text x="1169.4" y="372" font-size="10.4" fill="#ffffff" font-weight="normal" text-anchor="start" textLength="32.4" lengthAdjust="spacingAndGlyphs" stroke="#ffffff" stroke-width="0.15" >1.18177</text>
<rect x="1165" y="373" width="41" height="11" fill="#00ff00" />
<text x="1169.4" y="382" font-size="10.4" fill="#ffffff" font-weight="normal" text-anchor="start" textLength="32.4" lengthAdjust="spacingAndGlyphs" stroke="#ffffff" stroke-width="0.15" >1.18024</text>
<rect x="1165" y="447" width="41" height="11" fill="#0000ff" />
<text x="1169.4" y="456" font-size="10.4" fill="#ffffff" font-weight="normal" text-anchor="start" textLength="32.4" lengthAdjust="spacingAndGlyphs" stroke="#ffffff" stroke-width="0.15" >1.17002</text>
<rect x="1164" y="495" width="2" height="1" fill="#000" />
<text x="1167" y="504" font-size="10.4" fill="#000" font-weight="normal" text-anchor="start" textLength="37.8" lengthAdjust="spacingAndGlyphs" stroke="#000" stroke-width="0.15" >0.002947</text>
<rect x="1164" y="518" width="2" height="1" fill="#000" />
<text x="1167" y="522" font-size="10.4" fill="#000" font-weight="normal" text-anchor="start" textLength="17.5" lengthAdjust="spacingAndGlyphs" stroke="#000" stroke-width="0.15" >0.00</text>
<rect x="1164" y="576" width="2" height="1" fill="#000" />
<text x="1167" y="574" font-size="10.4" fill="#000" font-weight="normal" text-anchor="start" textLength="40" lengthAdjust="spacingAndGlyphs" stroke="#000" stroke-width="0.15" >-0.007151</text>
<rect x="1164" y="581" width="2" height="1" fill="#000" />
<text x="1167" y="591" font-size="10.4" fill="#000" font-weight="normal" text-anchor="start" textLength="15.3" lengthAdjust="spacingAndGlyphs" stroke="#000" stroke-width="0.15" >100</text>
<rect x="1164" y="606" width="2" height="1" fill="#000" />
<text x="1167" y="610" font-size="10.4" fill="#000" font-weight="normal" text-anchor="start" textLength="10.2" lengthAdjust="spacingAndGlyphs" stroke="#000" stroke-width="0.15" >70</text>
<rect x="1164" y="640" width="2" height="1" fill="#000" />
<text x="1167" y="644" font-size="10.4" fill="#000" font-weight="normal" text-anchor="start" textLength="10.2" lengthAdjust="spacingAndGlyphs" stroke="#000" stroke-width="0.15" >30</text>
<rect x="1164" y="666" width="2" height="1" fill="#000" />
<text x="1167" y="663" font-size="10.4" fill="#000" font-weight="normal" text-anchor="start" textLength="5.1" lengthAdjust="spacingAndGlyphs" stroke="#000" stroke-width="0.15" >0</text>
<rect x="1" y="667" width="1" height="4" fill="#000" />
<text x="0.4" y="679" font-size="10.4" fill="#000" font-weight="normal" text-anchor="start" textLength="43.6" lengthAdjust="spacingAndGlyphs" stroke="#000" stroke-width="0.15" >1 Jun 2021</text>
<rect x="65" y="667" width="1" height="4" fill="#000" />
<text x="64.4" y="679" font-size="10.4" fill="#000" font-weight="normal" text-anchor="start" textLength="47.6" lengthAdjust="spacingAndGlyphs" stroke="#000" stroke-width="0.15" >8 Jun 18:00</text>
<rect x="129" y="667" width="1" height="4" fill="#000" />
<text x="128.4" y="679" font-size="10.4" fill="#000" font-weight="normal" text-anchor="start" textLength="52.3" lengthAdjust="spacingAndGlyphs" stroke="#000" stroke-width="0.15" >16 Jun 00:00</text>
<rect x="193" y="667" width="1" height="4" fill="#000" />
<text x="192.4" y="679" font-size="10.4" fill="#000" font-weight="normal" text-anchor="start" textLength="52.3" lengthAdjust="spacingAndGlyphs" stroke="#000" stroke-width="0.15" >23 Jun 10:00</text>
<rect x="257" y="667" width="1" height="4" fill="#000" />
<text x="256.4" y="679" font-size="10.4" fill="#000" font-weight="normal" text-anchor="start" textLength="52.3" lengthAdjust="spacingAndGlyphs" stroke="#000" stroke-width="0.15" >30 Jun 18:00</text>
<rect x="321" y="667" width="1" height="4" fill="#000" />
<text x="320.4" y="679" font-size="10.4" fill="#000" font-weight="normal" text-anchor="start" textLength="45.6" lengthAdjust="spacingAndGlyphs" stroke="#000" stroke-width="0.15" >8 Jul 00:00</text>
<rect x="385" y="667" width="1" height="4" fill="#000" />
<text x="384.4" y="679" font-size="10.4" fill="#000" font-weight="normal" text-anchor="start" textLength="50.3" lengthAdjust="spacingAndGlyphs" stroke="#000" stroke-width="0.15" >15 Jul 10:00</text>
<rect x="449" y="667" width="1" height="4" fill="#000" />
<text x="448.4" y="679" font-size="10.4" fill="#000" font-weight="normal" text-anchor="start" textLength="50.3" lengthAdjust="spacingAndGlyphs" stroke="#000" stroke-width="0.15" >22 Jul 18:00</text>
<rect x="513" y="667" width="1" height="4" fill="#000" />
<text x="512.4" y="679" font-size="10.4" fill="#000" font-weight="normal" text-anchor="start" textLength="50.3" lengthAdjust="spacingAndGlyphs" stroke="#000" stroke-width="0.15" >30 Jul 00:00</text>
<rect x="577" y="667" width="1" height="4" fill="#000" />
<text x="576.4" y="679" font-size="10.4" fill="#000" font-weight="normal" text-anchor="start" textLength="50.6" lengthAdjust="spacingAndGlyphs" stroke="#000" stroke-width="0.15" >6 Aug 10:00</text>
<rect x="641" y="667" width="1" height="4" fill="#000" />
<text x="640.4" y="679" font-size="10.4" fill="#000" font-weight="normal" text-anchor="start" textLength="55.6" lengthAdjust="spacingAndGlyphs" stroke="#000" stroke-width="0.15" >13 Aug 18:00</text>
<rect x="705" y="667" width="1" height="4" fill="#000" />
<text x="704.4" y="679" font-size="10.4" fill="#000" font-weight="normal" text-anchor="start" textLength="56" lengthAdjust="spacingAndGlyphs" stroke="#000" stroke-width="0.15" >21 Aug 00:00</text>
<rect x="769" y="667" width="1" height="4" fill="#000" />
<text x="768.4" y="679" font-size="10.4" fill="#000" font-weight="normal" text-anchor="start" textLength="56.4" lengthAdjust="spacingAndGlyphs" stroke="#000" stroke-width="0.15" >30 Aug 11:00</text>
<rect x="833" y="667" width="1" height="4" fill="#000" />
<text x="832.4" y="679" font-size="10.4" fill="#000" font-weight="normal" text-anchor="start" textLength="50.4" lengthAdjust="spacingAndGlyphs" stroke="#000" stroke-width="0.15" >6 Sep 19:00</text>
<rect x="897" y="667" width="1" height="4" fill="#000" />
<text x="896.4" y="679" font-size="10.4" fill="#000" font-weight="normal" text-anchor="start" textLength="55.3" lengthAdjust="spacingAndGlyphs" stroke="#000" stroke-width="0.15" >14 Sep 00:00</text>
<rect x="0" y="688" width="1211" height="25" fill="#f0f0f0" />
<rect x="0" y="688" width="1211" height="1" fill="#ffffff" />
<rect x="0" y="689" width="1211" height="1" fill="#000" />
<rect x="0" y="709" width="1211" height="1" fill="#ffffff" />
<rect x="2" y="689" width="92" height="19" fill="#ffffff" />
<rect x="2" y="689" width="1" height="19" fill="#000" />
<rect x="93" y="689" width="1" height="19" fill="#000" />
<rect x="2" y="707" width="92" height="1" fill="#000" />
<rect x="1209" y="690" width="1" height="18" fill="#e3e3e3" />
<text x="14" y="704" font-size="12" fill="#000" font-weight="normal" text-anchor="start" textLength="68" lengthAdjust="spacingAndGlyphs" >EURUSD,H4</text>
<text x="105" y="704" font-size="12" fill="#6d6d6d" font-weight="normal" text-anchor="start" textLength="82" lengthAdjust="spacingAndGlyphs" >AUDUSD,Daily</text>
<rect x="198" y="694" width="1" height="12" fill="#6d6d6d" />
<text x="208" y="704" font-size="12" fill="#6d6d6d" font-weight="normal" text-anchor="start" textLength="67" lengthAdjust="spacingAndGlyphs" >USDCHF,H4</text>
<rect x="287" y="694" width="1" height="12" fill="#6d6d6d" />
<text x="297.4" y="704" font-size="12" fill="#6d6d6d" font-weight="normal" text-anchor="start" textLength="81" lengthAdjust="spacingAndGlyphs" >USDCAD,Daily</text>
<rect x="390" y="694" width="1" height="12" fill="#6d6d6d" />
<text x="400.8" y="704" font-size="12" fill="#6d6d6d" font-weight="normal" text-anchor="start" textLength="82" lengthAdjust="spacingAndGlyphs" >USDCNH,Daily</text>
<rect x="495" y="694" width="1" height="12" fill="#6d6d6d" />
<text x="506" y="704" font-size="12" fill="#6d6d6d" font-weight="normal" text-anchor="start" textLength="52" lengthAdjust="spacingAndGlyphs" >UKOil,H1</text>
<rect x="571" y="694" width="1" height="12" fill="#6d6d6d" />
<text x="580.2" y="704" font-size="12" fill="#6d6d6d" font-weight="normal" text-anchor="start" textLength="46.7" lengthAdjust="spacingAndGlyphs" >DJ30,H1</text>
<rect x="638" y="694" width="1" height="12" fill="#6d6d6d" />
<text x="650.4" y="704" font-size="12" fill="#6d6d6d" font-weight="normal" text-anchor="start" textLength="51.5" lengthAdjust="spacingAndGlyphs" >USDX,H1</text>
<rect x="714" y="694" width="1" height="12" fill="#6d6d6d" />
<text x="725.2" y="704" font-size="12" fill="#6d6d6d" font-weight="normal" text-anchor="start" textLength="68.5" lengthAdjust="spacingAndGlyphs" >XAUUSD,H4</text>
<rect x="806" y="694" width="1" height="12" fill="#6d6d6d" />
<text x="817.9" y="704" font-size="12" fill="#6d6d6d" font-weight="normal" text-anchor="start" textLength="68" lengthAdjust="spacingAndGlyphs" >GBPUSD,H1</text>
<rect x="898" y="694" width="1" height="12" fill="#6d6d6d" />
<path d="M1178.5 698.5l4-3.8v7.6z" fill="#a0a0a0"/>
<path d="M1202 698.5l-4-3.8v7.6z" fill="#a0a0a0"/>
</svg></body></html>
